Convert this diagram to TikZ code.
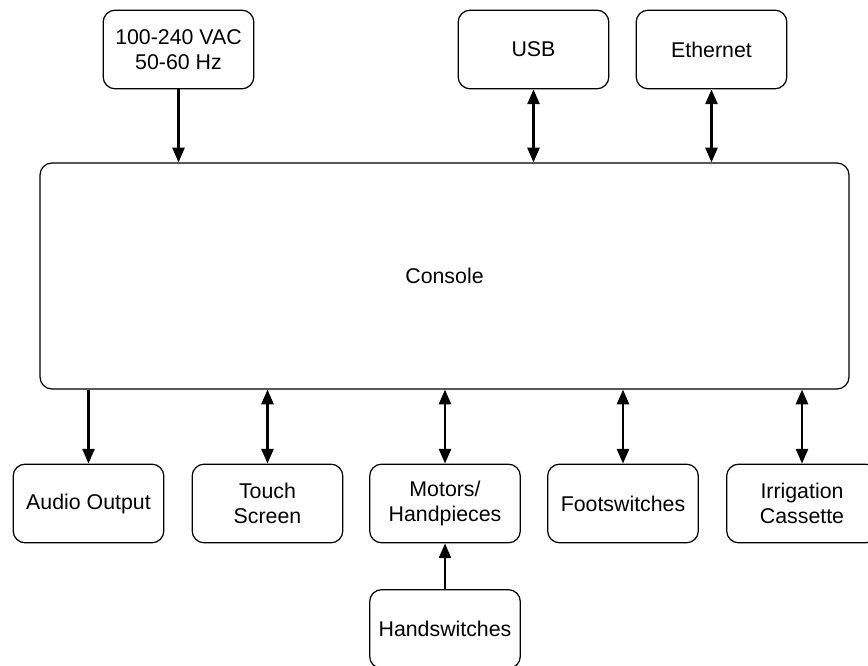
\documentclass[tikz,border=0pt]{standalone}
\usepackage{fontspec}
\setmainfont{Liberation Sans}
\usetikzlibrary{arrows.meta,positioning}

\begin{document}
\begin{tikzpicture}[x=0.75pt,y=-0.75pt,font=\fontsize{16}{18.5}\selectfont,
  blk/.style={draw,line width=0.9pt,rounded corners=9pt,align=center,
    minimum width=113pt,minimum height=59pt,inner sep=0pt},
  link/.style={line width=1.8pt,-{Triangle[length=11pt,width=9pt]}},
  both/.style={line width=1.8pt,{Triangle[length=11pt,width=9pt]}-{Triangle[length=11pt,width=9pt]}}]
  % page = 868 x 666 px, y runs downwards
  \useasboundingbox (0,0) rectangle (868,666);

  % inputs on top
  \node[blk] (power) at (178.5,49.5) {100-240 VAC\\50-60 Hz};
  \node[blk] (usb)   at (533.5,49.5) {USB};
  \node[blk] (eth)   at (711.5,49.5) {Ethernet};

  \node[blk,minimum width=606.75pt,minimum height=169.5pt] (console) at (444.5,276) {Console};

  % peripherals below
  \node[blk] (audio)  at (88.5,503.5)  {Audio Output};
  \node[blk] (touch)  at (267.5,503.5) {Touch\\Screen};
  \node[blk] (motors) at (445,503.5)   {Motors/\\Handpieces};
  \node[blk] (foot)   at (623,503.5)   {Footswitches};
  \node[blk] (irr)    at (802,503.5)   {Irrigation\\Cassette};
  \node[blk] (hand)   at (445,629)     {Handswitches};

  \draw[link] (power.south) -- (power.south |- console.north);
  \foreach \b in {usb,eth} \draw[both] (\b.south) -- (\b.south |- console.north);
  \draw[link] (audio.north |- console.south) -- (audio.north);
  \foreach \b in {touch,motors,foot,irr} \draw[both] (\b.north |- console.south) -- (\b.north);
  \draw[link] (hand) -- (motors);
\end{tikzpicture}
\end{document}
